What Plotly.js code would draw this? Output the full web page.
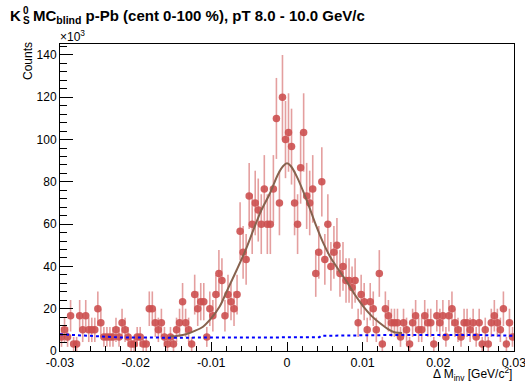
<!DOCTYPE html>
<html>
<head>
<meta charset="utf-8">
<script src="https://cdn.plot.ly/plotly-3.0.1.min.js"></script>
<style>html,body{margin:0;padding:0;background:#fff;}#chart{width:525px;height:382px;}</style>
</head>
<body>
<div id="chart"></div>
<script>
// Histogram definition (Delta M_inv, GeV/c^2): 150 bins from -0.03 to 0.03
const xMin = -0.03;
const binWidth = 0.0004;
// weight of one entry, in units of 10^3 counts
const entryWeight = 10 / 3;
// entries per bin (null = empty bin, not drawn)
const nEntries = [
  2,3,2,5,1,1,5,3,5,3,
  3,3,6,4,2,2,2,2,3,2,
  4,3,2,1,1,2,2,1,1,6,
  6,4,3,4,2,1,2,1,3,4,
  7,4,3,1,8,6,7,7,2,6,
  5,8,11,10,5,8,7,6,8,17,
  14,13,22,18,21,20,18,23,18,18,
  23,33,21,36,30,31,29,21,18,26,
  31,22,21,23,11,14,24,13,18,12,
  14,15,11,12,10,10,9,10,4,8,
  7,3,7,6,3,11,1,6,5,4,
  4,4,2,4,3,1,4,5,3,3,
  5,4,4,1,5,4,5,2,5,6,
  4,3,2,4,4,3,4,2,4,1,
  3,1,4,5,4,3,6,1,4,2
];
// fitted signal+background curve
const fitX = [-0.0155,-0.0144,-0.0133,-0.0122,-0.0111,-0.0100,-0.0089,-0.0078,-0.00665,-0.0055,-0.00445,-0.0034,-0.00225,-0.0012,-0.0005,0.0000,0.0005,0.0013,0.0026,0.0039,0.0048,0.0057,0.0068,0.0079,0.0090,0.0101,0.0112,0.0123,0.0133,0.0141,0.0147,0.0152];
const fitY = [6.8,7.2,8.0,9.5,11.5,15.5,21.0,29.5,38.3,47.5,57.2,66.5,74.6,83.5,87.5,88.8,87.5,82.5,71.4,58.8,51.0,44.6,38.5,32.8,26.5,21.0,16.5,13.1,10.5,9.0,8.6,8.5];
// background estimate (blue dotted)
const bkgX = [-0.0300,-0.0260,-0.0220,-0.0150,-0.0100,0.0000,0.0043,0.0045,0.0090,0.0150,0.0250,0.0300];
const bkgY = [7.9,7.2,6.4,6.3,6.4,6.6,6.5,7.2,7.5,7.6,7.6,7.2];
// axis ticks
const xTickVals = [-0.03,-0.02,-0.01,0,0.01,0.02,0.03];
const xTickText = ['-0.03','-0.02','-0.01','0','0.01','0.02','0.03'];
const yTickVals = [0,20,40,60,80,100,120,140];
const yTickText = ['0','20','40','60','80','100','120','140'];

const hx = [], hy = [], he = [];
nEntries.forEach((n, k) => {
  if (n === null) return;
  hx.push(xMin + (k + 0.5) * binWidth);
  hy.push(n * entryWeight);
  he.push(Math.sqrt(n) * entryWeight);
});

const FONT = '"Liberation Sans", Arial, Helvetica, sans-serif';
const red = 'rgba(204,80,80,0.9)';

const traces = [
  {x: hx, y: hy, type: 'scatter', mode: 'markers',
   marker: {color: red, size: 7.5, line: {width: 0}},
   error_y: {type: 'data', array: he, visible: true, color: 'rgba(210,95,95,0.6)', thickness: 1.6, width: 0},
   cliponaxis: true},
  {x: fitX, y: fitY, type: 'scatter', mode: 'lines',
   line: {color: 'rgb(135,98,78)', width: 2, shape: 'spline', smoothing: 0.8}},
  {x: bkgX, y: bkgY, type: 'scatter', mode: 'lines',
   line: {color: 'rgb(0,0,255)', width: 2, dash: 'dot'}}
];

const px2x = p => (p - 60) / 454;
const py2y = p => (351 - p) / 307;

const layout = {
  width: 525, height: 382,
  margin: {l: 60, r: 11, t: 44, b: 31, pad: 0},
  paper_bgcolor: '#fff', plot_bgcolor: '#fff',
  showlegend: false,
  font: {family: FONT, color: '#000', size: 12},
  xaxis: {
    range: [-0.03, 0.03], tickvals: xTickVals, ticktext: xTickText,
    ticks: 'inside', ticklen: 9, tickwidth: 1, tickcolor: '#000',
    minor: {dtick: 0.002, tick0: -0.03, ticks: 'inside', ticklen: 5, tickcolor: '#000', tickwidth: 1, showgrid: false},
    showline: true, mirror: true, linecolor: '#000', linewidth: 1,
    showgrid: false, zeroline: false, tickfont: {family: FONT, size: 12.5},
    ticklabeloverflow: 'allow'
  },
  yaxis: {
    range: [0, 145.2], tickvals: yTickVals, ticktext: yTickText,
    ticks: 'inside', ticklen: 13, tickwidth: 1, tickcolor: '#000',
    minor: {dtick: 4, tick0: 0, ticks: 'inside', ticklen: 7, tickcolor: '#000', tickwidth: 1, showgrid: false},
    showline: true, mirror: true, linecolor: '#000', linewidth: 1,
    showgrid: false, zeroline: false, tickfont: {family: FONT, size: 12},
    ticklabeloverflow: 'allow'
  },
  annotations: [
    {xref: 'paper', yref: 'paper', x: px2x(8), y: py2y(15.5), xanchor: 'left', yanchor: 'middle',
     text: '<b>K</b>', showarrow: false, font: {family: FONT, size: 15}},
    {xref: 'paper', yref: 'paper', x: px2x(20.5), y: py2y(10.5), xanchor: 'left', yanchor: 'middle',
     text: '<b>0</b>', showarrow: false, font: {family: FONT, size: 10}},
    {xref: 'paper', yref: 'paper', x: px2x(20.5), y: py2y(21), xanchor: 'left', yanchor: 'middle',
     text: '<b>S</b>', showarrow: false, font: {family: FONT, size: 10}},
    {xref: 'paper', yref: 'paper', x: px2x(31), y: py2y(17), xanchor: 'left', yanchor: 'middle',
     text: '<b>MC<sub>blind</sub> p-Pb (cent 0-100 %), pT 8.0 - 10.0 GeV/c</b>', showarrow: false, font: {family: FONT, size: 15}},
    {xref: 'paper', yref: 'paper', x: px2x(58), y: py2y(36), xanchor: 'left', yanchor: 'middle',
     text: '×10<sup>3</sup>', showarrow: false, font: {family: FONT, size: 12}},
    {xref: 'paper', yref: 'paper', x: px2x(28), y: py2y(40), xanchor: 'center', yanchor: 'top',
     text: 'Counts', textangle: -90, showarrow: false, font: {family: FONT, size: 12}},
    {xref: 'paper', yref: 'paper', x: px2x(514), y: py2y(373.5), xanchor: 'right', yanchor: 'middle',
     text: 'Δ M<sub>inv</sub> [GeV/c<sup>2</sup>]', showarrow: false, font: {family: FONT, size: 12}}
  ]
};

Plotly.newPlot('chart', traces, layout, {staticPlot: true, displayModeBar: false});
</script>
</body>
</html>
